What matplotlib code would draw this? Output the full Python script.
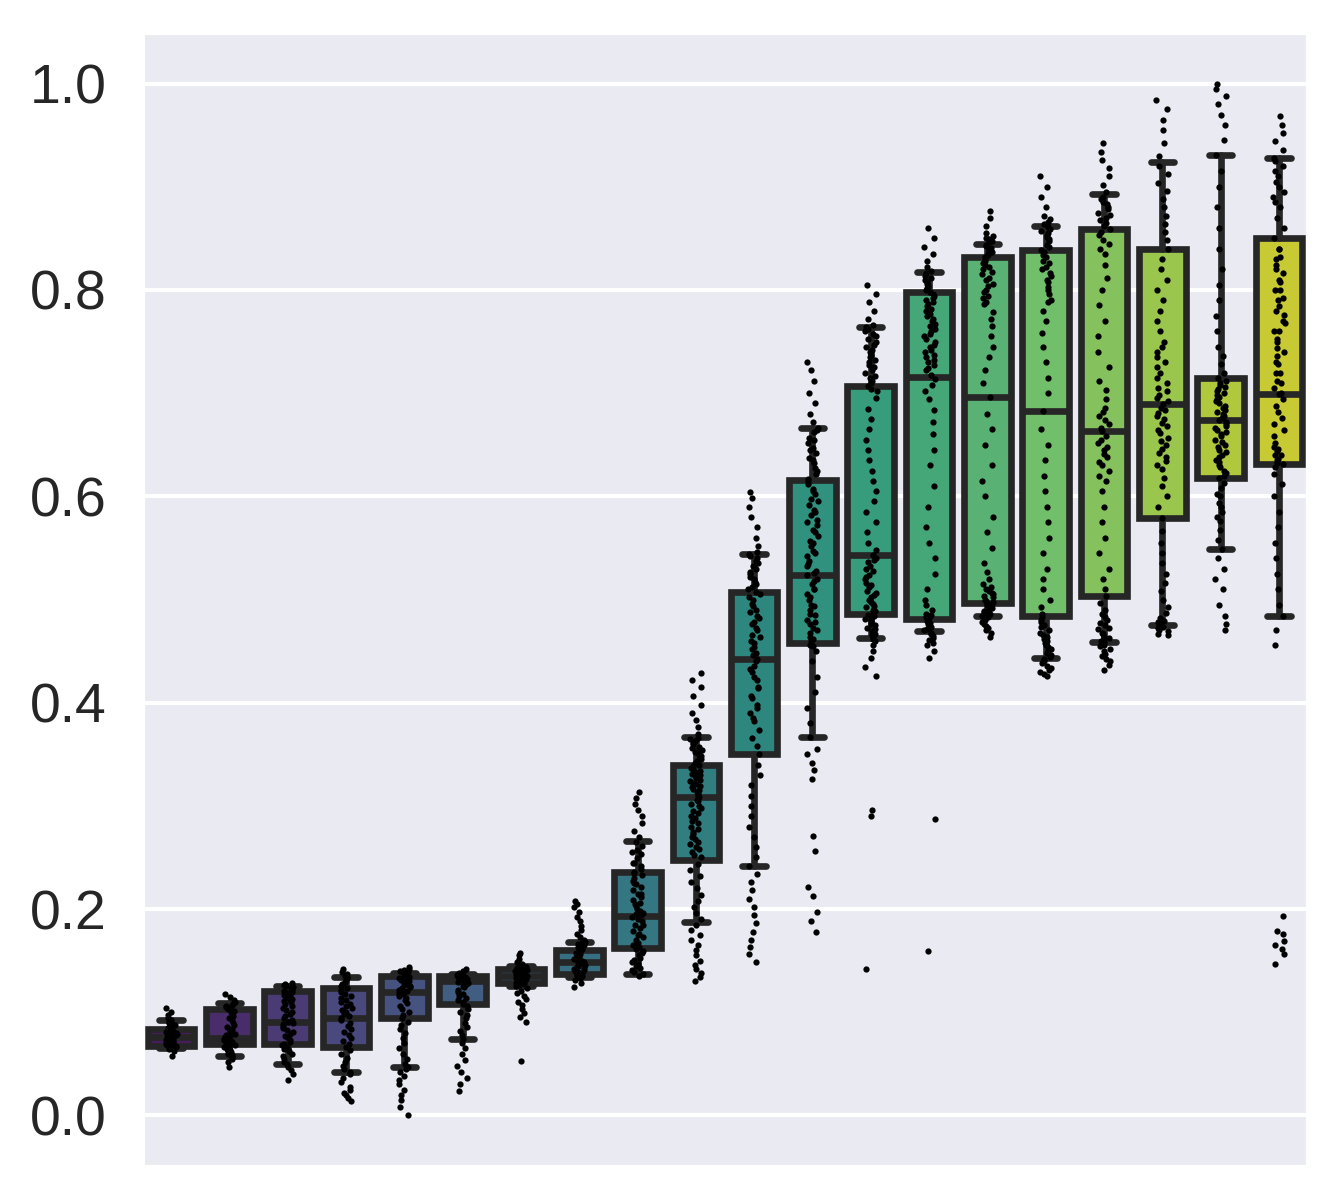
import numpy as np
import pandas as pd
import matplotlib
matplotlib.use("Agg")
import matplotlib.pyplot as plt
import seaborn as sns

# ---- box statistics (per category, left to right) ----
q1 = [0.067, 0.069, 0.069, 0.066, 0.094, 0.108, 0.128, 0.137, 0.162, 0.248,
      0.350, 0.458, 0.486, 0.481, 0.497, 0.484, 0.503, 0.579, 0.618, 0.631]
med = [0.076, 0.075, 0.091, 0.094, 0.120, 0.130, 0.135, 0.149, 0.193, 0.309,
       0.442, 0.524, 0.543, 0.716, 0.696, 0.683, 0.663, 0.689, 0.674, 0.699]
q3 = [0.084, 0.103, 0.121, 0.123, 0.135, 0.135, 0.142, 0.160, 0.236, 0.340,
      0.507, 0.616, 0.707, 0.798, 0.832, 0.839, 0.859, 0.840, 0.715, 0.850]
whis_lo = [0.065, 0.058, 0.050, 0.042, 0.047, 0.074, 0.125, 0.134, 0.137, 0.187,
           0.242, 0.367, 0.463, 0.469, 0.484, 0.443, 0.459, 0.475, 0.549, 0.484]
whis_hi = [0.092, 0.109, 0.125, 0.134, 0.138, 0.137, 0.145, 0.168, 0.266, 0.367,
           0.544, 0.666, 0.764, 0.817, 0.845, 0.862, 0.893, 0.924, 0.931, 0.928]

# ---- individual observations (strip points) ----
pts00 = [0.058,0.062,0.064,0.065,0.066,0.067,0.068,0.068,0.069,0.070,0.070,0.071,0.071,0.072,0.072,0.073,0.073,0.074,0.074,0.075,0.075,0.075,0.076,0.076,0.076,0.077,0.077,0.077,0.078,0.078,0.079,0.079,0.080,0.080,0.081,0.081,0.082,0.082,0.083,0.083,0.084,0.084,0.085,0.086,0.087,0.088,0.089,0.090,0.091,0.092,0.094,0.097,0.100,0.104]
pts01 = [0.047,0.052,0.055,0.057,0.058,0.059,0.060,0.061,0.062,0.063,0.064,0.065,0.066,0.067,0.068,0.069,0.070,0.070,0.071,0.072,0.072,0.073,0.074,0.074,0.075,0.075,0.076,0.077,0.078,0.079,0.080,0.082,0.084,0.086,0.088,0.090,0.092,0.094,0.096,0.098,0.100,0.101,0.102,0.103,0.104,0.105,0.106,0.107,0.108,0.110,0.112,0.115,0.118]
pts02 = [0.034,0.040,0.044,0.047,0.050,0.052,0.055,0.058,0.060,0.062,0.064,0.066,0.068,0.069,0.071,0.073,0.075,0.077,0.079,0.081,0.083,0.085,0.087,0.089,0.090,0.091,0.092,0.094,0.096,0.098,0.100,0.102,0.104,0.106,0.108,0.110,0.111,0.112,0.113,0.114,0.115,0.116,0.117,0.118,0.119,0.120,0.121,0.122,0.123,0.124,0.125,0.126,0.127,0.128]
pts03 = [0.014,0.017,0.020,0.022,0.025,0.028,0.032,0.036,0.040,0.042,0.045,0.048,0.052,0.056,0.060,0.063,0.066,0.069,0.072,0.075,0.078,0.081,0.084,0.087,0.090,0.092,0.094,0.096,0.098,0.100,0.102,0.104,0.106,0.108,0.110,0.112,0.114,0.116,0.118,0.120,0.122,0.123,0.125,0.127,0.129,0.131,0.133,0.134,0.135,0.137,0.139,0.142]
pts04 = [0.000,0.008,0.015,0.020,0.025,0.030,0.034,0.038,0.042,0.045,0.047,0.050,0.055,0.060,0.065,0.070,0.075,0.080,0.084,0.088,0.091,0.094,0.097,0.100,0.103,0.106,0.109,0.112,0.114,0.116,0.118,0.119,0.120,0.121,0.122,0.123,0.124,0.125,0.126,0.127,0.128,0.129,0.130,0.131,0.132,0.133,0.134,0.135,0.136,0.137,0.138,0.139,0.140,0.141,0.142,0.144]
pts05 = [0.024,0.030,0.036,0.042,0.048,0.054,0.060,0.065,0.070,0.074,0.078,0.082,0.086,0.090,0.094,0.097,0.100,0.103,0.106,0.108,0.110,0.112,0.114,0.116,0.118,0.120,0.122,0.124,0.125,0.126,0.127,0.128,0.129,0.130,0.130,0.131,0.131,0.132,0.132,0.133,0.133,0.134,0.134,0.135,0.135,0.136,0.136,0.137,0.138,0.139,0.140,0.142]
pts06 = [0.053,0.091,0.095,0.099,0.103,0.107,0.110,0.113,0.116,0.119,0.121,0.123,0.125,0.126,0.127,0.128,0.129,0.130,0.131,0.131,0.132,0.132,0.133,0.133,0.134,0.134,0.135,0.135,0.136,0.136,0.137,0.137,0.138,0.138,0.139,0.139,0.140,0.140,0.141,0.141,0.142,0.143,0.144,0.145,0.147,0.149,0.152,0.155,0.157]
pts07 = [0.124,0.128,0.131,0.133,0.134,0.135,0.136,0.137,0.138,0.139,0.140,0.141,0.142,0.143,0.144,0.145,0.146,0.147,0.148,0.149,0.149,0.150,0.151,0.152,0.153,0.154,0.155,0.156,0.157,0.158,0.159,0.160,0.161,0.162,0.163,0.164,0.165,0.166,0.167,0.168,0.170,0.173,0.176,0.180,0.184,0.188,0.192,0.197,0.202,0.205,0.208]
pts08 = [0.135,0.137,0.139,0.141,0.143,0.145,0.147,0.149,0.151,0.153,0.155,0.157,0.159,0.161,0.163,0.165,0.167,0.170,0.173,0.176,0.179,0.182,0.185,0.188,0.190,0.192,0.194,0.196,0.198,0.200,0.203,0.206,0.209,0.212,0.215,0.218,0.221,0.224,0.227,0.230,0.233,0.236,0.239,0.242,0.245,0.249,0.253,0.257,0.261,0.265,0.270,0.276,0.283,0.290,0.296,0.302,0.308,0.313,
         0.165,0.175,0.185,0.195,0.205,0.215,0.225,0.235,0.245,0.255]
pts09 = [0.130,0.134,0.138,0.142,0.146,0.150,0.155,0.160,0.165,0.170,0.175,0.180,0.185,0.190,0.196,0.202,0.208,0.214,0.220,0.226,0.232,0.238,0.244,0.250,0.255,0.260,0.265,0.270,0.275,0.280,0.285,0.290,0.295,0.300,0.305,0.309,0.312,0.315,0.318,0.321,0.324,0.327,0.330,0.333,0.336,0.339,0.342,0.345,0.348,0.351,0.354,0.357,0.360,0.363,0.366,0.370,0.376,0.383,0.390,0.398,0.406,0.415,0.422,0.429,
         0.252,0.258,0.263,0.268,0.273,0.278,0.283,0.288,0.293,0.298,0.302,0.306,0.310,0.313,0.316,0.319,0.322,0.325,0.328,0.331,0.334,0.337,0.340,0.343,0.346,0.349,0.352,0.356,0.361,0.365]
pts10 = [0.149,0.156,0.163,0.170,0.178,0.186,0.194,0.202,0.210,0.218,0.226,0.234,0.242,0.250,0.260,0.270,0.280,0.290,0.300,0.310,0.320,0.330,0.340,0.350,0.358,0.366,0.374,0.382,0.390,0.398,0.406,0.414,0.422,0.430,0.436,0.442,0.448,0.454,0.460,0.466,0.472,0.478,0.484,0.490,0.496,0.502,0.507,0.512,0.517,0.522,0.527,0.532,0.537,0.542,0.546,0.552,0.560,0.570,0.580,0.590,0.598,0.604,
         0.385,0.395,0.405,0.415,0.425,0.433,0.440,0.446,0.452,0.458,0.464,0.470,0.476,0.482,0.488,0.494,0.500,0.505,0.510,0.515,0.520,0.525,0.530,0.535,0.540,0.544]
pts11 = [0.178,0.188,0.197,0.213,0.221,0.256,0.271,0.326,0.335,0.342,0.350,0.355,0.367,0.380,0.395,0.410,0.425,0.440,0.450,0.456,0.460,0.464,0.468,0.472,0.476,0.480,0.485,0.490,0.495,0.500,0.505,0.510,0.515,0.520,0.524,0.528,0.532,0.537,0.542,0.547,0.552,0.557,0.562,0.567,0.572,0.577,0.582,0.587,0.592,0.597,0.602,0.607,0.612,0.617,0.622,0.627,0.632,0.637,0.642,0.647,0.652,0.657,0.662,0.666,0.672,0.680,0.690,0.700,0.712,0.722,0.730,
         0.455,0.462,0.470,0.478,0.486,0.494,0.502,0.510,0.518,0.526,0.534,0.545,0.555,0.565,0.575,0.585,0.595,0.605,0.615,0.625,0.635,0.645,0.655,0.664]
pts12 = [0.142,0.290,0.296,0.426,0.435,0.443,0.450,0.456,0.460,0.463,0.466,0.469,0.472,0.475,0.478,0.481,0.484,0.487,0.490,0.493,0.496,0.500,0.504,0.508,0.512,0.516,0.520,0.524,0.528,0.532,0.536,0.540,0.543,0.548,0.555,0.565,0.575,0.585,0.595,0.605,0.615,0.625,0.635,0.645,0.655,0.665,0.675,0.685,0.695,0.702,0.707,0.712,0.717,0.722,0.727,0.732,0.737,0.742,0.747,0.752,0.757,0.762,0.766,0.772,0.780,0.788,0.796,0.805,
         0.462,0.467,0.471,0.476,0.480,0.485,0.489,0.494,0.498,0.502,0.506,0.514,0.522,0.530,0.538,0.704,0.710,0.715,0.720,0.725,0.730,0.735,0.740,0.745,0.750,0.755,0.760,0.764]
pts13 = [0.159,0.287,0.443,0.450,0.456,0.461,0.465,0.468,0.471,0.474,0.477,0.480,0.483,0.486,0.490,0.495,0.500,0.510,0.525,0.540,0.555,0.570,0.590,0.610,0.630,0.645,0.660,0.672,0.684,0.694,0.702,0.708,0.714,0.718,0.722,0.727,0.732,0.737,0.742,0.747,0.752,0.757,0.762,0.767,0.772,0.777,0.782,0.786,0.790,0.794,0.798,0.802,0.806,0.810,0.814,0.818,0.822,0.828,0.835,0.842,0.850,0.860,
         0.458,0.463,0.467,0.470,0.473,0.476,0.479,0.482,0.485,0.724,0.730,0.735,0.740,0.745,0.750,0.755,0.760,0.765,0.770,0.775,0.780,0.784,0.788,0.792,0.796,0.800,0.804,0.808,0.812,0.816]
pts14 = [0.464,0.468,0.472,0.476,0.480,0.483,0.486,0.488,0.490,0.492,0.494,0.496,0.498,0.500,0.503,0.506,0.510,0.515,0.520,0.527,0.535,0.550,0.565,0.580,0.600,0.615,0.630,0.650,0.665,0.680,0.696,0.710,0.722,0.735,0.745,0.755,0.765,0.772,0.779,0.786,0.792,0.798,0.804,0.810,0.815,0.820,0.824,0.828,0.832,0.835,0.838,0.841,0.844,0.847,0.850,0.855,0.862,0.870,0.877,
         0.470,0.474,0.478,0.481,0.484,0.487,0.489,0.491,0.493,0.495,0.497,0.499,0.502,0.505,0.508,0.512,0.788,0.794,0.800,0.806,0.812,0.817,0.822,0.826,0.830,0.834,0.837,0.840,0.843,0.846,0.849,0.852]
pts15 = [0.426,0.430,0.434,0.438,0.442,0.446,0.450,0.454,0.458,0.462,0.466,0.470,0.475,0.480,0.486,0.493,0.500,0.510,0.520,0.530,0.545,0.560,0.575,0.590,0.605,0.620,0.635,0.650,0.665,0.683,0.700,0.715,0.730,0.745,0.758,0.770,0.780,0.788,0.796,0.803,0.810,0.816,0.822,0.828,0.834,0.839,0.844,0.849,0.853,0.857,0.861,0.866,0.872,0.880,0.890,0.900,0.910,
         0.428,0.432,0.436,0.440,0.444,0.448,0.452,0.456,0.460,0.464,0.468,0.473,0.478,0.483,0.790,0.800,0.808,0.814,0.820,0.826,0.832,0.837,0.842,0.847,0.851,0.855,0.859,0.864,0.869]
pts16 = [0.432,0.437,0.442,0.447,0.452,0.456,0.460,0.464,0.468,0.472,0.477,0.483,0.490,0.497,0.503,0.510,0.520,0.530,0.545,0.560,0.575,0.590,0.605,0.615,0.625,0.633,0.641,0.648,0.655,0.663,0.670,0.678,0.686,0.694,0.703,0.712,0.725,0.740,0.755,0.770,0.785,0.800,0.812,0.824,0.835,0.845,0.853,0.859,0.865,0.870,0.875,0.880,0.885,0.890,0.895,0.902,0.910,0.918,0.926,0.934,0.942,
         0.440,0.445,0.450,0.455,0.459,0.463,0.467,0.471,0.475,0.480,0.486,0.620,0.630,0.638,0.645,0.652,0.658,0.666,0.674,0.682,0.840,0.848,0.856,0.862,0.868,0.873,0.878,0.883,0.888]
pts17 = [0.466,0.469,0.472,0.475,0.478,0.482,0.487,0.493,0.500,0.508,0.516,0.525,0.535,0.545,0.555,0.566,0.579,0.590,0.600,0.610,0.618,0.626,0.634,0.642,0.650,0.657,0.664,0.671,0.678,0.684,0.689,0.695,0.702,0.710,0.720,0.730,0.740,0.750,0.760,0.770,0.780,0.790,0.800,0.810,0.820,0.830,0.840,0.848,0.856,0.864,0.872,0.880,0.888,0.896,0.904,0.912,0.920,0.930,0.942,0.955,0.965,0.975,0.984,
         0.467,0.470,0.473,0.476,0.479,0.480,0.630,0.638,0.646,0.654,0.661,0.668,0.675,0.681,0.686,0.692,0.698,0.705,0.715,0.725,0.735,0.745]
pts18 = [0.470,0.476,0.484,0.495,0.510,0.520,0.530,0.540,0.549,0.558,0.567,0.576,0.585,0.594,0.602,0.608,0.613,0.618,0.623,0.628,0.633,0.638,0.643,0.648,0.653,0.658,0.662,0.666,0.670,0.674,0.678,0.682,0.686,0.690,0.694,0.698,0.702,0.706,0.710,0.715,0.720,0.728,0.736,0.745,0.760,0.775,0.790,0.805,0.820,0.840,0.860,0.880,0.900,0.915,0.931,0.945,0.960,0.970,0.980,0.988,0.995,1.000,
         0.620,0.625,0.630,0.635,0.640,0.645,0.650,0.655,0.660,0.664,0.668,0.672,0.676,0.680,0.684,0.688,0.692,0.696,0.700,0.704,0.708,0.712,0.600,0.590,0.580]
pts19 = [0.147,0.156,0.161,0.165,0.169,0.176,0.179,0.193,0.456,0.470,0.484,0.495,0.510,0.525,0.540,0.555,0.570,0.585,0.600,0.612,0.622,0.628,0.631,0.635,0.640,0.646,0.652,0.658,0.664,0.670,0.676,0.682,0.688,0.694,0.699,0.705,0.712,0.720,0.728,0.736,0.744,0.752,0.760,0.768,0.776,0.784,0.792,0.800,0.808,0.816,0.824,0.832,0.840,0.850,0.860,0.870,0.880,0.890,0.900,0.910,0.920,0.928,0.936,0.944,0.952,0.960,0.969,
         0.632,0.636,0.640,0.644,0.648,0.700,0.710,0.720,0.730,0.740,0.750,0.760,0.770,0.780,0.790,0.800,0.810,0.820,0.830,0.840,0.885,0.895,0.905,0.915,0.925]

points = [pts00, pts01, pts02, pts03, pts04, pts05, pts06, pts07, pts08, pts09,
          pts10, pts11, pts12, pts13, pts14, pts15, pts16, pts17, pts18, pts19]
n_cat = len(med)
yticks = [0.0, 0.2, 0.4, 0.6, 0.8, 1.0]

sns.set_theme(style="darkgrid")
plt.rcParams['font.family'] = ['Liberation Sans', 'DejaVu Sans']

fig = plt.figure(figsize=(13.4 / 3, 12 / 3), dpi=300)
ax = fig.add_axes([142 / 1340, 1 - 1167 / 1200, (1308 - 142) / 1340, (1167 - 32) / 1200])

pal = sns.color_palette("viridis", n_cat)
pal = [sns.desaturate(c, 0.75) for c in pal]
edge = "#262626"

stats = []
for i in range(n_cat):
    stats.append(dict(med=med[i], q1=q1[i], q3=q3[i], whislo=whis_lo[i],
                      whishi=whis_hi[i], fliers=[]))

bp = ax.bxp(stats, positions=list(range(n_cat)), widths=0.8, capwidths=0.4,
            patch_artist=True, showfliers=False, manage_ticks=False,
            boxprops=dict(edgecolor=edge, linewidth=1.6),
            whiskerprops=dict(color=edge, linewidth=1.6, solid_capstyle="round"),
            capprops=dict(color=edge, linewidth=1.6, solid_capstyle="round"),
            medianprops=dict(color=edge, linewidth=1.6, solid_capstyle="butt"))
for patch, c in zip(bp["boxes"], pal):
    patch.set_facecolor(c)
    patch.set_zorder(2)

df = pd.DataFrame({
    "cat": np.concatenate([[i] * len(p) for i, p in enumerate(points)]),
    "val": np.concatenate([np.asarray(p, float) for p in points]),
})
np.random.seed(3)
sns.stripplot(data=df, x="cat", y="val", native_scale=True, jitter=0.1,
              size=1.5, color="black", linewidth=0, ax=ax, zorder=3)

ax.set_xlim(-0.5, n_cat - 0.5)
ax.set_ylim(-0.05, 1.05)
ax.set_xticks([])
ax.set_yticks(yticks)
ax.set_yticklabels([f"{t:.1f}" for t in yticks])
ax.tick_params(axis="y", length=0, pad=8.4, labelsize=13.3, labelcolor="#262626")
ax.set_xlabel("")
ax.set_ylabel("")
ax.grid(axis="x", visible=False)

fig.savefig("out.png", dpi=300)
